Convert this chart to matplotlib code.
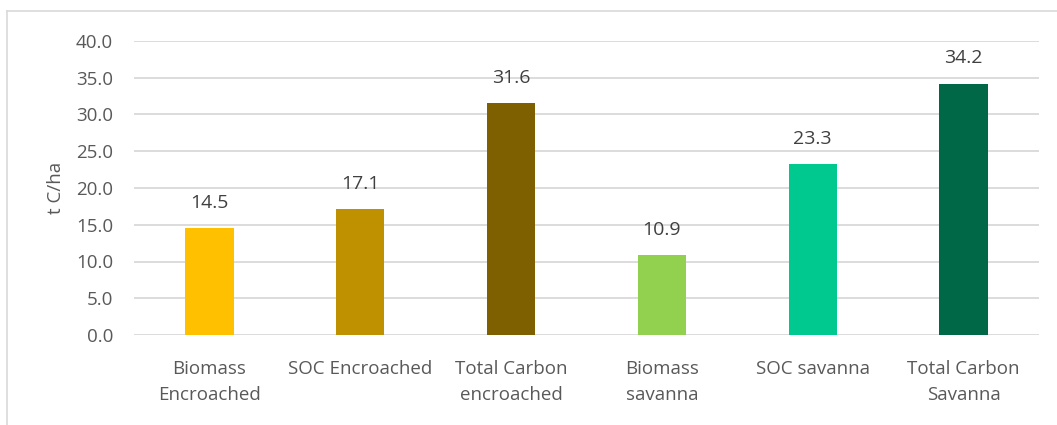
import matplotlib
matplotlib.use("Agg")
import matplotlib.pyplot as plt
from matplotlib.lines import Line2D

categories = ["Biomass\nEncroached", "SOC Encroached", "Total Carbon\nencroached",
              "Biomass\nsavanna", "SOC savanna", "Total Carbon\nSavanna"]
values = [14.5, 17.1, 31.6, 10.9, 23.3, 34.2]
colors = ["#FFC000", "#BF9000", "#7F6000", "#92D050", "#00C98F", "#006747"]
yticks = [0, 5, 10, 15, 20, 25, 30, 35, 40]

plt.rcParams['font.family'] = ['Open Sans', 'DejaVu Sans']

fig = plt.figure(figsize=(10.57, 4.25), dpi=100)
ax = fig.add_axes([134/1057, 1-335/425, (1039-134)/1057, (335-41)/425])

x = list(range(len(categories)))
bars = ax.bar(x, values, width=0.32, color=colors, zorder=3)
for xi, v in zip(x, values):
    ax.text(xi, v + 2.2, f"{v:.1f}", ha="center", va="bottom",
            fontsize=14, color="#404040")

ax.set_xlim(-0.5, len(categories) - 0.5)
ax.set_ylim(0, 40)
ax.set_yticks(yticks)
ax.set_yticklabels([f"{t:.1f}" for t in yticks], fontsize=13.5, color="#595959")
ax.set_xticks(x)
ax.set_xticklabels(categories, fontsize=13.5, color="#595959", linespacing=1.6)
ax.tick_params(axis='both', length=0)
ax.tick_params(axis='x', pad=18)
ax.tick_params(axis='y', pad=15)
ax.grid(axis='y', color="#D9D9D9", linewidth=1.3, zorder=0)
for s in ax.spines.values():
    s.set_visible(False)
ax.set_ylabel("t C/ha", fontsize=13.5, color="#595959", labelpad=8)

# outer chart border (left and top visible)
fig.add_artist(Line2D([7/1057, 7/1057], [0, 1-11/425], transform=fig.transFigure,
                      color="#D9D9D9", linewidth=1.2))
fig.add_artist(Line2D([7/1057, 1], [1-11/425, 1-11/425], transform=fig.transFigure,
                      color="#D9D9D9", linewidth=1.2))

fig.savefig("out.png", dpi=100)
